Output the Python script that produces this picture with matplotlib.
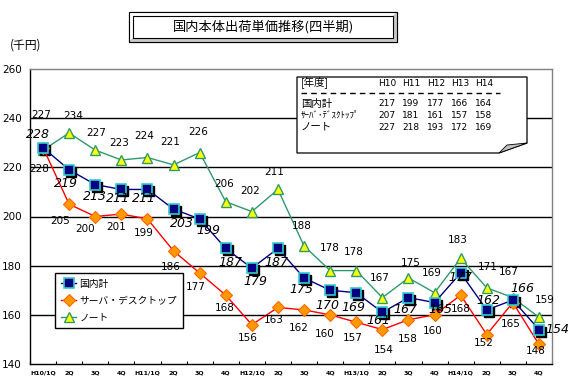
import numpy as np
import matplotlib
matplotlib.use("Agg")
import matplotlib.pyplot as plt
import matplotlib.transforms as mtransforms
from matplotlib.patches import Rectangle, Polygon

plt.rcParams["font.family"] = ["Noto Sans CJK JP", "DejaVu Sans"]

quarters = ["H10/1Q", "2Q", "3Q", "4Q", "H11/1Q", "2Q", "3Q", "4Q", "H12/1Q", "2Q",
            "3Q", "4Q", "H13/1Q", "2Q", "3Q", "4Q", "H14/1Q", "2Q", "3Q", "4Q"]
domestic = [228, 219, 213, 211, 211, 203, 199, 187, 179, 187,
            175, 170, 169, 161, 167, 165, 177, 162, 166, 154]
server = [228, 205, 200, 201, 199, 186, 177, 168, 156, 163,
          162, 160, 157, 154, 158, 160, 168, 152, 165, 148]
note = [227, 234, 227, 223, 224, 221, 226, 206, 202, 211,
        188, 178, 178, 167, 175, 169, 183, 171, 167, 159]

years = ["H10", "H11", "H12", "H13", "H14"]
table_rows = ["国内計", "ｻｰﾊﾞ･ﾃﾞｽｸﾄｯﾌﾟ", "ノート"]
table_values = [
    [217, 199, 177, 166, 164],
    [207, 181, 161, 157, 158],
    [227, 218, 193, 172, 169],
]

W, H = 581, 381
fig = plt.figure(figsize=(W / 100, H / 100), dpi=100)
ax = fig.add_axes([30 / W, (H - 364) / H, (552 - 30) / W, (364 - 69) / H])

x = np.arange(len(quarters))

# gridlines
for yv in [160, 180, 200, 220, 240]:
    ax.axhline(yv, color="black", lw=1.0, zorder=1)

# shadow under the squares
shadow = mtransforms.offset_copy(ax.transData, fig=fig, x=2, y=-2, units="dots")
ax.plot(x, domestic, "s", ms=7, color="black", transform=shadow, zorder=3)

ax.plot(x, note, "-", color="#2e9a6a", lw=1.0, marker="^", ms=7,
        mfc="#ffff00", mec="#2e9a6a", mew=1.0, zorder=2, label="ノート")
ax.plot(x, server, "-", color="#ff0000", lw=1.0, marker="D", ms=6,
        mfc="#ff9900", mec="#ff6600", mew=0.8, zorder=3, label="サーバ・デスクトップ")
ax.plot(x, domestic, "-", color="#000080", lw=1.0, marker="s", ms=7,
        mfc="#000080", mec="#33cccc", mew=1.2, zorder=4, label="国内計")

# per-point label offsets (pixels, screen y down)
dom_off = [(-5, -13), (-3, 14), (0, 12), (-3, 9), (-3, 9), (8, 14), (9, 12), (5, 14),
           (4, 13), (-2, 14), (-3, 12), (-3, 15), (-3, 15), (-4, 8), (-3, 12), (6, 7),
           (0, 4), (2, -9), (10, -12), (18, 0)]
srv_off = [(-4, 21), (-9, 17), (-10, 12), (-5, 13), (-4, 14), (-3, 16), (-4, 14), (-1, 13),
           (-4, 13), (-4, 13), (-5, 18), (-5, 19), (-4, 16), (1, 20), (-1, 19), (-2, 16),
           (0, 14), (-3, 9), (-2, 21), (-3, 7)]
note_off = [(-2, -35), (4, -17), (1, -17), (-2, -17), (-3, -21), (-3, -23), (-1, -21), (-2, -18),
            (-2, -21), (-4, -17), (-2, -20), (0, -23), (-3, -19), (-3, -20), (2, -15), (-3, -20),
            (-3, -18), (1, -21), (-4, -26), (6, -17)]

for i in range(len(quarters)):
    dx, dy = note_off[i]
    ax.annotate(str(note[i]), (x[i], note[i]), xytext=(dx, -dy), textcoords="offset pixels",
                ha="center", va="center", fontsize=7.5, family="DejaVu Sans", zorder=6)
    dx, dy = srv_off[i]
    ax.annotate(str(server[i]), (x[i], server[i]), xytext=(dx, -dy), textcoords="offset pixels",
                ha="center", va="center", fontsize=7.5, family="DejaVu Sans", zorder=6)
    dx, dy = dom_off[i]
    ax.annotate(str(domestic[i]), (x[i], domestic[i]), xytext=(dx, -dy), textcoords="offset pixels",
                ha="center", va="center", fontsize=9, style="italic", family="DejaVu Sans", zorder=6)

ax.set_xlim(-0.5, len(quarters) - 0.5)
ax.set_ylim(140, 260)
ax.set_yticks([140, 160, 180, 200, 220, 240, 260])
ax.tick_params(axis="y", length=0, labelsize=7.5, pad=6)
ax.set_xticks(x)
ax.set_xticklabels(quarters, fontsize=4.5, fontweight="bold", family="DejaVu Sans")
ax.tick_params(axis="x", length=0, pad=5)
ax.set_xticks(np.arange(-0.5, len(quarters), 1.0), minor=True)
ax.tick_params(axis="x", which="minor", direction="in", length=2.5, width=0.8)
for lab in ax.get_yticklabels():
    lab.set_family("DejaVu Sans")

ax.spines["left"].set_color("black")
ax.spines["bottom"].set_color("black")
ax.spines["top"].set_color("#808080")
ax.spines["right"].set_color("#808080")
for s in ax.spines.values():
    s.set_linewidth(1.0)

leg = ax.legend(handles=ax.get_lines()[::-1][:3], loc="upper left",
                bbox_to_anchor=((55 - 30) / 522, (364 - 273) / 295),
                fontsize=7, frameon=True, fancybox=False, edgecolor="black",
                framealpha=1, borderpad=0.6, labelspacing=0.7, handlelength=1.6,
                handletextpad=0.3, borderaxespad=0)
leg.get_frame().set_linewidth(1.0)
leg.set_zorder(10)

# overlay in pixel coordinates for title box, unit label and table box
ov = fig.add_axes([0, 0, 1, 1], zorder=5)
ov.set_xlim(0, W)
ov.set_ylim(H, 0)
ov.axis("off")
ov.patch.set_alpha(0)

# title box with bevel
ov.add_patch(Rectangle((129, 12), 268, 30, fc="#b0b0b0", ec="black", lw=0.8))
ov.add_patch(Polygon([(129, 12), (397, 12), (393, 16), (133, 16), (133, 38), (129, 42)],
                     closed=True, fc="white", ec="none"))
ov.add_patch(Polygon([(397, 12), (397, 42), (129, 42), (133, 38), (393, 38), (393, 16)],
                     closed=True, fc="#c8c8c8", ec="none"))
ov.add_patch(Rectangle((129, 12), 268, 30, fc="none", ec="black", lw=0.8))
ov.add_patch(Rectangle((133, 16), 260, 22, fc="white", ec="black", lw=0.8))
ov.text(263, 27, "国内本体出荷単価推移(四半期)", ha="center", va="center", fontsize=9.5)

ov.text(10, 45, "(千円)", ha="left", va="center", fontsize=8.5)

# table box with folded corner
ov.add_patch(Polygon([(297, 77), (527, 77), (527, 143), (499, 153), (297, 153)],
                     closed=True, fc="white", ec="black", lw=0.9))
ov.add_patch(Polygon([(499, 153), (507, 145), (527, 143)], closed=True,
                     fc="#c0c0c0", ec="black", lw=0.6))
ov.text(301, 83, "[年度]", ha="left", va="center", fontsize=7.5)
col_x = [387, 411, 436, 460, 484]
for cx, yr in zip(col_x, years):
    ov.text(cx, 83, yr, ha="center", va="center", fontsize=6.5, family="DejaVu Sans")
ov.plot([301, 500], [93, 93], color="black", lw=1.0, ls=(0, (4, 3)))
row_y = [104, 115, 127]
for ry, name, vals in zip(row_y, table_rows, table_values):
    ov.text(301, ry, name, ha="left", va="center", fontsize=7.5 if name != "ｻｰﾊﾞ･ﾃﾞｽｸﾄｯﾌﾟ" else 6.5)
    for cx, v in zip(col_x, vals):
        ov.text(cx, ry, str(v), ha="center", va="center", fontsize=6.5, family="DejaVu Sans")

fig.savefig("out.png", dpi=100, facecolor="white")
